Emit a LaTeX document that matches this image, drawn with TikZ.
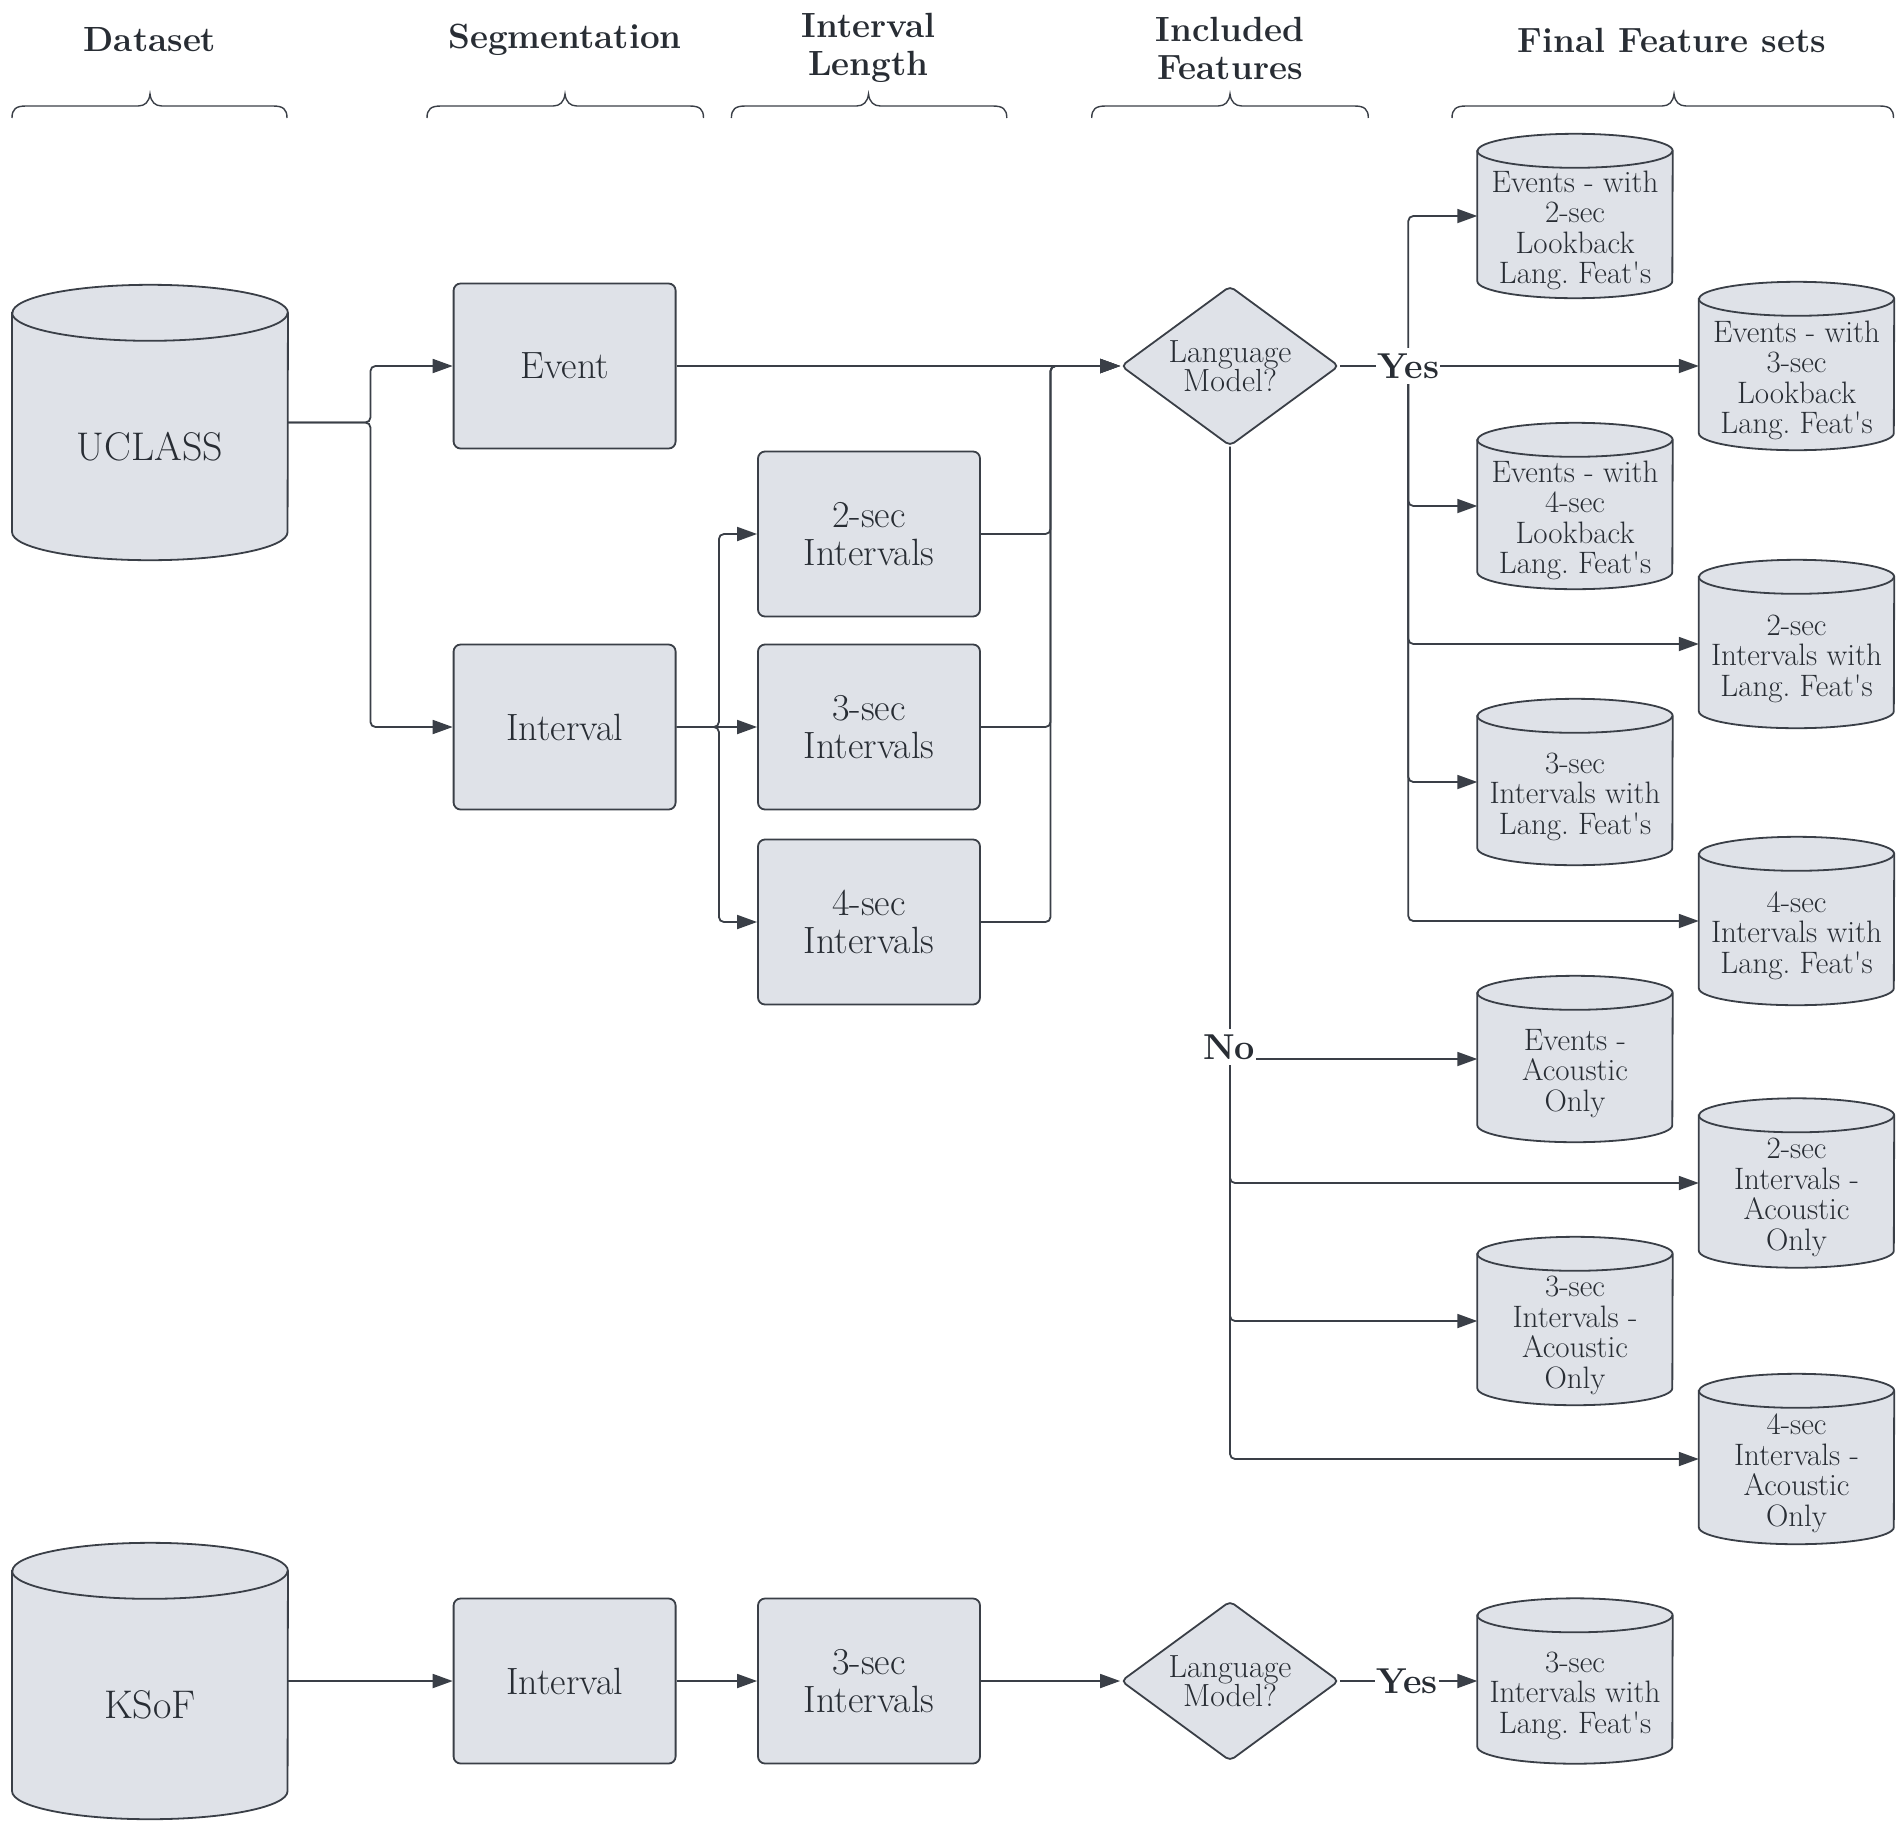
\documentclass[tikz,border=0pt]{standalone}
\usepackage{tikz}
\usetikzlibrary{arrows.meta,shapes.geometric,calc}
\frenchspacing

\definecolor{fillc}{RGB}{223,226,232}
\definecolor{linec}{RGB}{58,63,71}
\definecolor{textc}{RGB}{40,45,52}

\tikzset{
  every node/.style={text=textc},
  procbox/.style={draw=linec, fill=fillc, line width=1.8pt, rounded corners=7pt,
    minimum width=222pt, minimum height=165pt, align=center,
    font=\fontsize{38}{37.6}\selectfont, inner sep=0pt},
  decbox/.style={draw=linec, fill=fillc, line width=1.8pt, shape=diamond, rounded corners=5pt,
    minimum width=218pt, minimum height=160pt, aspect=1.36, align=center,
    font=\fontsize{32}{29}\selectfont, inner sep=0pt},
  cylbox/.style={draw=none, inner sep=0pt},
  cylbody/.style={draw=linec, fill=fillc, line width=1.8pt},
  cyltext/.style={align=center, font=\fontsize{31}{30.5}\selectfont, inner sep=0pt},
  bigtext/.style={align=center, font=\fontsize{40}{42}\selectfont, inner sep=0pt},
  headtext/.style={align=center, font=\bfseries\fontsize{35}{38}\selectfont, inner sep=0pt},
  conn/.style={draw=linec, line width=1.8pt, rounded corners=5pt},
  arr/.style={conn, -{Triangle[length=20pt,width=14pt]}},
  yesno/.style={fill=white, font=\bfseries\fontsize{36}{36}\selectfont, inner xsep=1pt, inner ysep=6pt},
  bracec/.style={draw=linec, line width=1.4pt},
}

% cylinder: name, cx, cy (downward), w, h, ry, text style, text
\newcommand\dbcyl[8]{%
  \node[cylbox, minimum width=#4pt, minimum height=#5pt] (#1) at (#2,-#3) {};
  \path[cylbody] ([yshift=-#6pt]#1.north west) -- ([yshift=#6pt]#1.south west)
     arc[start angle=180, end angle=360, x radius=#4/2, y radius=#6]
     -- ([yshift=-#6pt]#1.north east)
     arc[start angle=0, end angle=180, x radius=#4/2, y radius=#6] -- cycle;
  \draw[cylbody, fill=none] ([yshift=-#6pt]#1.north west)
     arc[start angle=180, end angle=360, x radius=#4/2, y radius=#6];
  \node[#7] (#1t) at ([yshift=-#6pt*0.85]#1.center) {#8};
}

% brace: left, tip, right
\newcommand\hbrace[3]{%
  \draw[bracec] (#1,-118) .. controls (#1,-109) and (#1+4,-106) .. (#1+14,-106)
    -- (#2-12,-106) .. controls (#2-5,-106) and (#2-1,-102) .. (#2,-94)
    .. controls (#2+1,-102) and (#2+5,-106) .. (#2+12,-106)
    -- (#3-14,-106) .. controls (#3-4,-106) and (#3,-109) .. (#3,-118);
}

\begin{document}
\begin{tikzpicture}[x=1pt,y=1pt]
\useasboundingbox (0,0) rectangle (1902,-1831);

% headers
\node[headtext] (h1) at (150,-40) {Dataset};
\node[headtext] (h2) at (565,-40) {Segmentation};
\node[headtext] (h3) at (868.5,-48) {Interval\\Length};
\node[headtext] (h4) at (1230,-48) {Included\\Features};
\node[headtext] (h5) at (1672,-40) {Final Feature sets};

\hbrace{12}{150}{287}
\hbrace{427}{565}{703.5}
\hbrace{731.4}{868.5}{1006.8}
\hbrace{1091.7}{1230}{1368.3}
\hbrace{1452}{1674}{1893.5}

% UCLASS branch
\dbcyl{U}{150}{422.5}{275.5}{275}{28}{bigtext}{UCLASS}
\node[procbox] (Ev) at (564.6,-366) {Event};
\node[procbox] (In) at (564.6,-727) {Interval};
\node[procbox] (S2) at (869,-534) {2-sec\\Intervals};
\node[procbox] (S3) at (869,-727) {3-sec\\Intervals};
\node[procbox] (S4) at (869,-922) {4-sec\\Intervals};
\node[decbox] (D1) at (1230,-366) {Language\\Model?};

\dbcyl{E2}{1575}{216}{195}{164}{17}{cyltext}{Events - with\\2-sec\\Lookback\\Lang. Feat\textquotesingle s}
\dbcyl{E3}{1796.5}{366}{195}{168}{17}{cyltext}{Events - with\\3-sec\\Lookback\\Lang. Feat\textquotesingle s}
\dbcyl{E4}{1575}{506}{195}{166}{17}{cyltext}{Events - with\\4-sec\\Lookback\\Lang. Feat\textquotesingle s}
\dbcyl{I2}{1796.5}{644}{195}{168}{17}{cyltext}{2-sec\\Intervals with\\Lang. Feat\textquotesingle s}
\dbcyl{I3}{1575}{782}{195}{166}{17}{cyltext}{3-sec\\Intervals with\\Lang. Feat\textquotesingle s}
\dbcyl{I4}{1796.5}{921}{195}{168}{17}{cyltext}{4-sec\\Intervals with\\Lang. Feat\textquotesingle s}
\dbcyl{EA}{1575}{1059}{195}{166}{17}{cyltext}{Events -\\Acoustic\\Only}
\dbcyl{A2}{1796.5}{1183}{195}{169}{17}{cyltext}{2-sec\\Intervals -\\Acoustic\\Only}
\dbcyl{A3}{1575}{1321}{195}{168}{17}{cyltext}{3-sec\\Intervals -\\Acoustic\\Only}
\dbcyl{A4}{1796.5}{1459}{195}{170}{17}{cyltext}{4-sec\\Intervals -\\Acoustic\\Only}

% KSoF branch
\dbcyl{K}{150}{1681}{275.5}{276}{28}{bigtext}{KSoF}
\node[procbox] (KI) at (564.6,-1681) {Interval};
\node[procbox] (KS3) at (869,-1681) {3-sec\\Intervals};
\node[decbox] (D2) at (1230,-1681) {Language\\Model?};
\dbcyl{K3}{1575}{1681}{195}{165}{17}{cyltext}{3-sec\\Intervals with\\Lang. Feat\textquotesingle s}

% connectors
\draw[arr] (U.east) -- ++(82.5,0) |- (Ev.west);
\draw[arr] (U.east) -- ++(82.5,0) |- (In.west);
\draw[arr] (In.east) -- ++(42.4,0) |- (S2.west);
\draw[arr] (In.east) -- (S3.west);
\draw[arr] (In.east) -- ++(42.4,0) |- (S4.west);
\draw[arr] (Ev.east) -- (D1.west);
\coordinate (mj) at (1050.5,-366);
\draw[arr] (S2.east) -| (mj) -- (D1.west);
\draw[arr] (S3.east) -| (mj) -- (D1.west);
\draw[arr] (S4.east) -| (mj) -- (D1.west);

\coordinate (yj) at (1408.3,-366);
\draw[arr] (D1.east) -- (E3.west);
\draw[arr] (yj) |- (E2.west);
\draw[arr] (yj) |- (E4.west);
\draw[arr] (yj) |- (I2.west);
\draw[arr] (yj) |- (I3.west);
\draw[arr] (yj) |- (I4.west);

\draw[arr] (D1.south) |- (EA.west);
\draw[arr] (D1.south) |- (A2.west);
\draw[arr] (D1.south) |- (A3.west);
\draw[arr] (D1.south) |- (A4.west);

\draw[arr] (K.east) -- (KI.west);
\draw[arr] (KI.east) -- (KS3.west);
\draw[arr] (KS3.east) -- (D2.west);
\draw[arr] (D2.east) -- (K3.west);

% labels
\node[yesno] (Y1) at (yj) {Yes};
\node[yesno] (N1) at (1229,-1047) {No};
\node[yesno] (Y2) at (1407,-1681) {Yes};
\end{tikzpicture}
\end{document}
